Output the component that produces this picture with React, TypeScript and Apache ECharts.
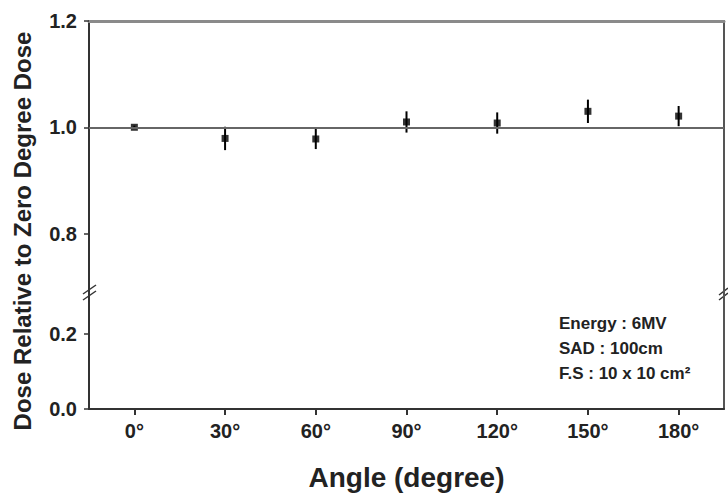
import React, { useEffect, useRef } from 'react';
import * as echarts from 'echarts';

const angles = ['0°', '30°', '60°', '90°', '120°', '150°', '180°'];
const doseValues = [1.0, 0.979, 0.978, 1.01, 1.008, 1.03, 1.021];
const doseErrors = [0.003, 0.022, 0.019, 0.02, 0.02, 0.022, 0.019];
const upperTicks = [0.8, 1.0, 1.2];
const lowerTicks = [0.0, 0.2];
const noteLines = ['Energy : 6MV', 'SAD : 100cm', 'F.S : 10 x 10 cm²'];
const referenceLevel = 1.0;

const FONT = '"Liberation Sans", Arial, Helvetica, sans-serif';
const TXT = '#222';

export default function App() {
  const ref = useRef<HTMLDivElement>(null);
  useEffect(() => {
    if (!ref.current) return;
    const chart = echarts.init(ref.current, null, { renderer: 'svg' });
    const labelCommon = {
      fontSize: 20,
      fontWeight: 'bold',
      color: TXT,
      fontFamily: FONT,
      margin: 12,
      formatter: (v: number) => Number(v).toFixed(1),
    };
    const frameAxis = (gridIndex: number, min: number, max: number) => ({
      type: 'value',
      gridIndex,
      position: 'right',
      min,
      max,
      axisLine: { show: true, lineStyle: { color: '#555', width: 2 } },
      axisTick: { show: false },
      axisLabel: { show: false },
      splitLine: { show: false },
    });
    const option: any = {
      animation: false,
      backgroundColor: '#fff',
      grid: [
        { left: 89, right: 4, top: 21, height: 271 },
        { left: 89, right: 4, top: 292, height: 117 },
      ],
      xAxis: [
        {
          type: 'category',
          gridIndex: 0,
          position: 'top',
          data: angles,
          axisLine: { show: true, lineStyle: { color: '#8a8a8a', width: 3 } },
          axisTick: { show: false },
          axisLabel: { show: false },
          splitLine: { show: false },
        },
        {
          type: 'category',
          gridIndex: 1,
          data: angles,
          axisLine: { show: true, lineStyle: { color: '#333', width: 2 } },
          axisTick: { show: true, alignWithLabel: true, length: 6, lineStyle: { color: '#333', width: 2 } },
          axisLabel: { fontSize: 20, fontWeight: 'bold', color: TXT, fontFamily: FONT, margin: 12 },
          splitLine: { show: false },
          name: 'Angle (degree)',
          nameLocation: 'middle',
          nameGap: 54,
          nameTextStyle: { fontSize: 28, fontWeight: 'bold', color: TXT, fontFamily: FONT },
        },
      ],
      yAxis: [
        {
          type: 'value',
          gridIndex: 0,
          min: 0.69,
          max: 1.2,
          axisLine: { show: true, lineStyle: { color: '#333', width: 2 } },
          axisTick: { show: true, length: 5, customValues: upperTicks, lineStyle: { color: '#333', width: 1.5 } },
          axisLabel: { ...labelCommon, customValues: upperTicks },
          splitLine: { show: false },
        },
        {
          type: 'value',
          gridIndex: 1,
          min: 0,
          max: 0.31,
          axisLine: { show: true, lineStyle: { color: '#333', width: 2 } },
          axisTick: { show: true, length: 5, customValues: lowerTicks, lineStyle: { color: '#333', width: 1.5 } },
          axisLabel: { ...labelCommon, customValues: lowerTicks },
          splitLine: { show: false },
        },
        frameAxis(0, 0.69, 1.2),
        frameAxis(1, 0, 0.31),
      ],
      series: [
        {
          type: 'custom',
          xAxisIndex: 0,
          yAxisIndex: 0,
          data: doseValues.map((v, i) => [i, v - doseErrors[i], v + doseErrors[i]]),
          encode: { x: 0, y: [1, 2] },
          z: 3,
          renderItem: (params: any, api: any) => {
            const x = api.value(0);
            const lo = api.coord([x, api.value(1)]);
            const hi = api.coord([x, api.value(2)]);
            return {
              type: 'line',
              shape: { x1: lo[0], y1: lo[1], x2: hi[0], y2: hi[1] },
              style: { stroke: '#000', lineWidth: 2 },
            };
          },
        },
        {
          type: 'scatter',
          xAxisIndex: 0,
          yAxisIndex: 0,
          symbol: 'rect',
          symbolSize: 7,
          itemStyle: { color: '#000' },
          z: 4,
          data: doseValues.map((v, i) => [i, v]),
          markLine: {
            silent: true,
            symbol: ['none', 'none'],
            label: { show: false },
            lineStyle: { color: '#666', width: 2, type: 'solid' },
            data: [{ yAxis: referenceLevel }],
          },
        },
      ],
      graphic: [
        {
          type: 'text',
          x: 22,
          y: 231,
          rotation: Math.PI / 2,
          style: {
            text: 'Dose Relative to Zero Degree Dose',
            fill: TXT,
            font: `bold 24px ${FONT}`,
            textAlign: 'center',
            textVerticalAlign: 'middle',
            align: 'center',
            verticalAlign: 'middle',
          },
        },
        ...noteLines.map((t, i) => ({
          type: 'text',
          x: 559,
          y: 323 + i * 25,
          style: {
            text: t,
            fill: TXT,
            font: `bold 17px ${FONT}`,
            textAlign: 'left',
            textVerticalAlign: 'middle',
            align: 'left',
            verticalAlign: 'middle',
          },
        })),
        { type: 'line', shape: { x1: 83, y1: 294, x2: 96, y2: 285 }, style: { stroke: '#333', lineWidth: 1.5 } },
        { type: 'line', shape: { x1: 83, y1: 300, x2: 96, y2: 291 }, style: { stroke: '#333', lineWidth: 1.5 } },
        { type: 'line', shape: { x1: 719, y1: 295, x2: 728, y2: 288 }, style: { stroke: '#333', lineWidth: 1.5 } },
        { type: 'line', shape: { x1: 719, y1: 300, x2: 728, y2: 293 }, style: { stroke: '#333', lineWidth: 1.5 } },
      ],
    };
    chart.setOption(option);
    return () => chart.dispose();
  }, []);
  return (
    <div
      ref={ref}
      style={{ position: 'fixed', left: 0, top: 0, width: 728, height: 498, background: '#fff' }}
    />
  );
}
